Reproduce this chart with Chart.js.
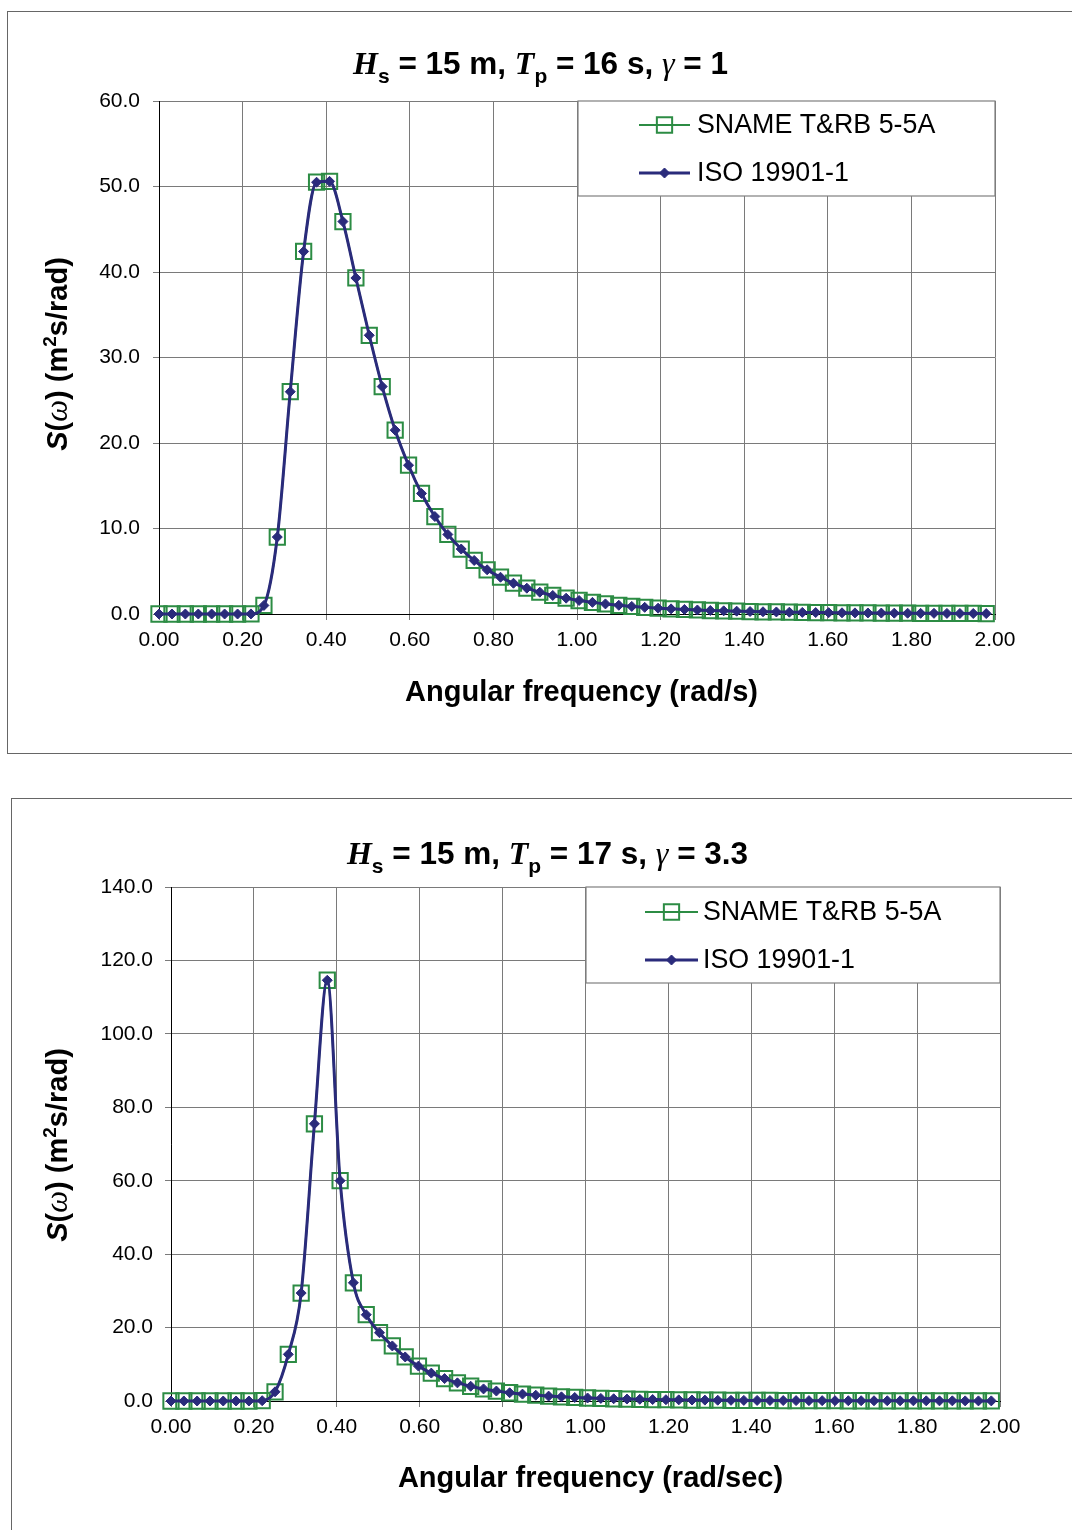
<!DOCTYPE html>
<html><head><meta charset="utf-8">
<script src="https://cdn.jsdelivr.net/npm/chart.js@4.4.1/dist/chart.umd.min.js"></script>
<style>
html,body{margin:0;padding:0;background:#fff;overflow:hidden;width:1072px;height:1530px;position:relative;}
.frame{position:absolute;border:1.5px solid #666;box-sizing:border-box;background:#fff;}
#f1{left:7px;top:11px;width:1090px;height:743px;}
#f2{left:11px;top:798px;width:1090px;height:760px;}
canvas{position:absolute;}
#c1{left:8px;top:12px;}
#c2{left:12px;top:799px;}
</style></head>
<body>
<div class="frame" id="f1"></div>
<div class="frame" id="f2"></div>
<canvas id="c1" width="1064" height="740"></canvas>
<canvas id="c2" width="1060" height="731"></canvas>
<script>
// ---------- DATA ----------
const omega = [0.000,0.031,0.063,0.094,0.126,0.157,0.188,0.220,0.251,0.283,0.314,0.346,0.377,0.408,0.440,0.471,0.503,0.534,0.565,0.597,0.628,0.660,0.691,0.723,0.754,0.785,0.817,0.848,0.880,0.911,0.942,0.974,1.005,1.037,1.068,1.100,1.131,1.162,1.194,1.225,1.257,1.288,1.319,1.351,1.382,1.414,1.445,1.477,1.508,1.539,1.571,1.602,1.634,1.665,1.696,1.728,1.759,1.791,1.822,1.854,1.885,1.916,1.948,1.979];

// Chart 1: Hs = 15 m, Tp = 16 s, gamma = 1
const sname1 = [0,0,0,0,0,0,0,0.01,1.0,9.0,26.0,42.4,50.5,50.6,45.9,39.3,32.6,26.6,21.5,17.4,14.1,11.4,9.3,7.6,6.26,5.17,4.30,3.60,3.02,2.55,2.17,1.85,1.58,1.36,1.18,1.02,0.89,0.78,0.68,0.60,0.53,0.47,0.41,0.37,0.33,0.29,0.26,0.24,0.21,0.19,0.17,0.16,0.14,0.13,0.12,0.11,0.10,0.09,0.08,0.08,0.07,0.06,0.06,0.05];
const iso1   = [0,0,0,0,0,0,0,0.01,1.0,9.0,26.0,42.4,50.5,50.6,45.9,39.3,32.6,26.6,21.5,17.4,14.1,11.4,9.3,7.6,6.26,5.17,4.30,3.60,3.02,2.55,2.17,1.85,1.58,1.36,1.18,1.02,0.89,0.78,0.68,0.60,0.53,0.47,0.41,0.37,0.33,0.29,0.26,0.24,0.21,0.19,0.17,0.16,0.14,0.13,0.12,0.11,0.10,0.09,0.08,0.08,0.07,0.06,0.06,0.05];

// Chart 2: Hs = 15 m, Tp = 17 s, gamma = 3.3
const sname2 = [0,0,0,0,0,0,0,0.08,2.5,12.7,29.4,75.5,114.6,60.0,32.2,23.5,18.6,15.0,12.0,9.5,7.6,6.10,4.94,4.02,3.29,2.71,2.25,1.88,1.58,1.33,1.13,0.96,0.82,0.71,0.61,0.53,0.46,0.40,0.35,0.31,0.27,0.24,0.21,0.19,0.17,0.15,0.14,0.12,0.11,0.10,0.09,0.08,0.07,0.07,0.06,0.06,0.05,0.05,0.04,0.04,0.04,0.03,0.03,0.03];
const iso2   = [0,0,0,0,0,0,0,0.08,2.5,12.7,29.4,75.5,114.6,60.0,32.2,23.5,18.6,15.0,12.0,9.5,7.6,6.10,4.94,4.02,3.29,2.71,2.25,1.88,1.58,1.33,1.13,0.96,0.82,0.71,0.61,0.53,0.46,0.40,0.35,0.31,0.27,0.24,0.21,0.19,0.17,0.15,0.14,0.12,0.11,0.10,0.09,0.08,0.07,0.07,0.06,0.06,0.05,0.05,0.04,0.04,0.04,0.03,0.03,0.03];

const seriesNames = ['SNAME T&RB 5-5A', 'ISO 19901-1'];
const xAxisTitles = ['Angular frequency (rad/s)', 'Angular frequency (rad/sec)'];
const xMin = 0, xMax = 2, xStep = 0.2;
const yMax1 = 60, yStep1 = 10;
const yMax2 = 140, yStep2 = 20;

// ---------- STYLE ----------
const SANS = '"Liberation Sans", Arial, sans-serif';
const SERIF = '"Liberation Serif", "Times New Roman", serif';
const GREEN = '#2c8c44';
const NAVY = '#2a2b7b';
const GRID = '#7a7a7a';

function titleSegs(tp, gam) {
  return [
    {t:'H', font:`bold italic 32px ${SERIF}`},
    {t:'s', font:`bold 21px ${SANS}`, dy:9},
    {t:' = 15 m, ', font:`bold 31.5px ${SANS}`},
    {t:'T', font:`bold italic 32px ${SERIF}`},
    {t:'p', font:`bold 21px ${SANS}`, dy:9},
    {t:' = ' + tp + ' s, ', font:`bold 31.5px ${SANS}`},
    {t:'\u03B3', font:`italic 32px ${SERIF}`},
    {t:' = ' + gam, font:`bold 31.5px ${SANS}`}
  ];
}
const ySegs = [
  {t:'S', font:`bold italic 29px ${SANS}`},
  {t:'(', font:`bold 29px ${SANS}`},
  {t:'\u03C9', font:`italic 31px ${SERIF}`},
  {t:') (m', font:`bold 29px ${SANS}`},
  {t:'2', font:`bold 19px ${SANS}`, dy:-11},
  {t:'s/rad)', font:`bold 29px ${SANS}`}
];

function drawRich(ctx, segs, x, y) {
  let total = 0;
  segs.forEach(s => { ctx.font = s.font; s.w = ctx.measureText(s.t).width; total += s.w; });
  let cx = x - total / 2;
  ctx.textAlign = 'left'; ctx.textBaseline = 'alphabetic'; ctx.fillStyle = '#000';
  segs.forEach(s => { ctx.font = s.font; ctx.fillText(s.t, cx, y + (s.dy || 0)); cx += s.w; });
}

const textPlugin = {
  id: 'texts',
  afterDraw(chart, args, o) {
    const ctx = chart.ctx, ca = chart.chartArea;
    ctx.save();
    // legend box
    const bx = ca.right - o.legW, by = ca.top;
    ctx.fillStyle = '#fff';
    ctx.fillRect(bx, by, o.legW, o.legH);
    ctx.strokeStyle = '#7f7f7f'; ctx.lineWidth = 1.2;
    ctx.strokeRect(bx, by, o.legW, o.legH);
    chart.data.datasets.forEach((ds, i) => {
      const y = by + o.rows[i];
      ctx.strokeStyle = ds.borderColor; ctx.lineWidth = ds.borderWidth;
      ctx.beginPath(); ctx.moveTo(bx + o.lx0, y); ctx.lineTo(bx + o.lx1, y); ctx.stroke();
      ctx.fillStyle = ds.pointBackgroundColor; ctx.strokeStyle = ds.pointBorderColor;
      ctx.lineWidth = ds.pointBorderWidth;
      Chart.helpers.drawPoint(ctx, {pointStyle: ds.pointStyle, radius: ds.pointRadius, rotation: 0, borderWidth: ds.pointBorderWidth}, bx + (o.lx0 + o.lx1) / 2, y);
      ctx.fillStyle = '#000'; ctx.font = `26.8px ${SANS}`;
      ctx.textAlign = 'left'; ctx.textBaseline = 'middle';
      ctx.fillText(ds.label, bx + o.tx, y + 1);
    });
    // title
    drawRich(ctx, o.title, o.titleX, o.titleY);
    // x title
    ctx.fillStyle = '#000'; ctx.font = `bold 29px ${SANS}`;
    ctx.textAlign = 'center'; ctx.textBaseline = 'alphabetic';
    ctx.fillText(o.xTitle, o.xTitleX, o.xTitleY);
    // y title
    ctx.translate(o.yTitleX, o.yTitleY);
    ctx.rotate(-Math.PI / 2);
    drawRich(ctx, ySegs, 0, 0);
    ctx.restore();
  }
};

function makeChart(id, sname, iso, yMax, yStep, L) {
  const pts = arr => omega.map((x, i) => ({x: x, y: arr[i]}));
  return new Chart(document.getElementById(id), {
    type: 'line',
    data: {
      datasets: [
        {label: seriesNames[1], data: pts(iso), borderColor: NAVY, borderWidth: 3,
         pointStyle: 'rectRot', pointRadius: 5, pointBackgroundColor: NAVY, pointBorderColor: NAVY,
         pointBorderWidth: 1, cubicInterpolationMode: 'monotone', clip: false, order: 1, fill: false},
        {label: seriesNames[0], data: pts(sname), borderColor: GREEN, borderWidth: 2,
         pointStyle: 'rect', pointRadius: 10.8, pointBackgroundColor: 'rgba(0,0,0,0)', pointBorderColor: GREEN,
         pointBorderWidth: 2, cubicInterpolationMode: 'monotone', clip: false, order: 2, fill: false}
      ]
    },
    options: {
      responsive: false, animation: false, devicePixelRatio: 1,
      layout: {padding: {left: 0, top: L.padTop, right: L.padRight, bottom: 0}},
      plugins: {
        legend: {display: false}, title: {display: false}, tooltip: {enabled: false},
        texts: L.texts
      },
      scales: {
        x: {
          type: 'linear', min: xMin, max: xMax,
          ticks: {stepSize: xStep, callback: v => Number(v).toFixed(2), color: '#000',
                  font: {family: SANS, size: 21}, padding: L.xPad, maxRotation: 0, autoSkip: false},
          grid: {color: GRID, lineWidth: 1, tickLength: 6, tickColor: GRID},
          border: {color: '#000', width: 1},
          afterFit(s) { s.height = L.xAxisH; }
        },
        y: {
          min: 0, max: yMax,
          ticks: {stepSize: yStep, callback: v => Number(v).toFixed(1), color: '#000',
                  font: {family: SANS, size: 21}, padding: L.yPad},
          grid: {color: GRID, lineWidth: 1, tickLength: 6, tickColor: GRID},
          border: {color: '#000', width: 1},
          afterFit(s) { s.width = L.yAxisW; }
        }
      }
    },
    plugins: [textPlugin]
  });
}

makeChart('c1', sname1, iso1, yMax1, yStep1, {
  padTop: 89, padRight: 77, xAxisH: 138, yAxisW: 151, xPad: 8, yPad: 13,
  texts: {legW: 417, legH: 95, lx0: 61, lx1: 112, tx: 119, rows: [72, 24],
          title: titleSegs('16', '1'), titleX: 532.5, titleY: 62,
          xTitle: xAxisTitles[0], xTitleX: 573.5, xTitleY: 689,
          yTitleX: 59, yTitleY: 342}
});
makeChart('c2', sname2, iso2, yMax2, yStep2, {
  padTop: 88, padRight: 72, xAxisH: 129, yAxisW: 159, xPad: 8, yPad: 12,
  texts: {legW: 414, legH: 96, lx0: 59, lx1: 112, tx: 117, rows: [73, 25],
          title: titleSegs('17', '3.3'), titleX: 535.5, titleY: 65,
          xTitle: xAxisTitles[1], xTitleX: 578.5, xTitleY: 688,
          yTitleX: 55, yTitleY: 346}
});
</script>
</body></html>
